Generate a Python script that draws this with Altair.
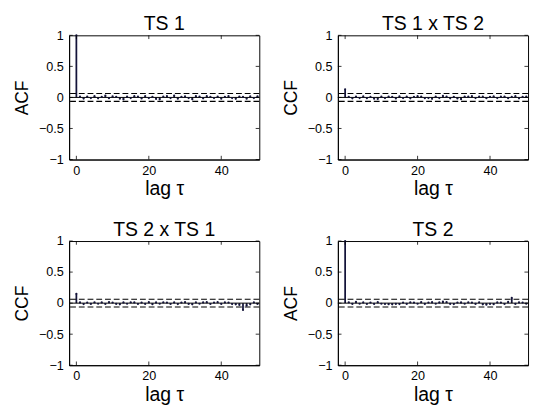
import altair as alt
import pandas as pd

lags = list(range(51))

ts1_acf = [1.0, 0.012, -0.018, 0.015, -0.010, 0.020, -0.014, 0.010, 0.028, -0.012,
           0.018, 0.010, -0.020, -0.030, 0.014, -0.010, 0.020, 0.012, -0.016, 0.022,
           -0.010, 0.010, -0.024, -0.030, 0.014, 0.020, -0.010, 0.030, -0.020, 0.010,
           0.016, -0.010, -0.030, 0.020, 0.012, -0.014, 0.020, 0.010, -0.010, 0.014,
           -0.020, 0.010, 0.022, -0.010, -0.022, 0.014, 0.010, -0.020, 0.018, -0.010, 0.016]

ts12_ccf = [0.13, 0.010, -0.014, 0.012, -0.010, 0.016, -0.012, 0.008, -0.020, -0.025,
            0.012, -0.010, 0.014, 0.010, -0.016, 0.018, -0.010, 0.012, -0.014, 0.010,
            0.020, 0.015, -0.012, -0.010, -0.022, 0.014, -0.010, 0.025, 0.012, -0.014,
            0.010, -0.016, -0.028, 0.014, 0.012, 0.020, -0.010, 0.014, 0.012, -0.012,
            0.010, 0.016, -0.010, 0.012, 0.014, -0.012, 0.010, 0.020, -0.014, 0.010, 0.012]

ts21_ccf = [0.15, 0.012, -0.016, 0.010, -0.012, 0.014, -0.010, 0.012, -0.014, 0.018,
            0.010, -0.012, -0.020, 0.012, -0.010, 0.014, 0.012, -0.014, 0.010, -0.012,
            0.016, -0.018, 0.012, -0.010, 0.014, 0.010, -0.014, 0.012, -0.016, 0.010,
            0.018, -0.012, -0.020, 0.014, -0.010, 0.012, 0.016, -0.014, 0.010, 0.018,
            -0.012, 0.014, 0.010, -0.016, -0.020, -0.030, -0.110, -0.040, -0.020, 0.012, -0.014]

ts2_acf = [1.0, 0.014, -0.012, 0.020, -0.010, 0.012, -0.014, 0.010, -0.012, 0.016,
           -0.010, -0.014, -0.018, -0.020, -0.012, -0.016, 0.010, -0.012, 0.014, 0.010,
           -0.010, 0.018, -0.012, 0.010, 0.016, -0.010, 0.012, 0.024, 0.018, -0.012,
           -0.016, 0.010, 0.012, -0.010, 0.014, 0.010, -0.012, 0.014, -0.020, -0.025,
           -0.012, -0.018, 0.012, 0.010, -0.014, 0.020, 0.085, -0.012, 0.014, 0.010, -0.010]

titles = ["TS 1", "TS 1 x TS 2", "TS 2 x TS 1", "TS 2"]
ylabels = ["ACF", "CCF", "CCF", "ACF"]
series = [ts1_acf, ts12_ccf, ts21_ccf, ts2_acf]
conf_bounds = [0.063, -0.063]
x_ticks = [0, 20, 40]
y_ticks = [-1, -0.5, 0, 0.5, 1]
x_limits = [-2, 50.5]
y_limits = [-1, 1]

FONT = "Liberation Sans"
STEM = "#14143a"


def panel(vals, title, ylab):
    df = pd.DataFrame({"lag": lags, "value": vals, "zero": [0.0] * len(lags)})
    bdf = pd.DataFrame({"b": conf_bounds})
    # inner tick marks (MATLAB style), short segments pointing into the box
    ylen = 0.06 * (y_limits[1] - y_limits[0]) / 2
    xlen = 1.0
    xt = pd.DataFrame(
        [{"tx": t, "ty": y_limits[0], "ty2": y_limits[0] + ylen} for t in x_ticks]
        + [{"tx": t, "ty": y_limits[1], "ty2": y_limits[1] - ylen} for t in x_ticks]
    )
    yt = pd.DataFrame(
        [{"ty": t, "tx": x_limits[0], "tx2": x_limits[0] + xlen} for t in y_ticks]
        + [{"ty": t, "tx": x_limits[1], "tx2": x_limits[1] - xlen} for t in y_ticks]
    )
    xscale = alt.Scale(domain=x_limits, nice=False)
    yscale = alt.Scale(domain=y_limits, nice=False)
    xaxis = alt.Axis(values=x_ticks, title="lag τ", grid=False, labelOverlap=False)
    yaxis = alt.Axis(values=y_ticks, format="~g", title=ylab, grid=False, labelOverlap=False)
    X = lambda f: alt.X(f, scale=xscale, axis=xaxis)
    Y = lambda f: alt.Y(f, scale=yscale, axis=yaxis)
    stems = alt.Chart(df).mark_rule(color=STEM, strokeWidth=1.8).encode(
        x=X("lag:Q"), y=Y("value:Q"), y2="zero:Q")
    dots = alt.Chart(df).mark_circle(color=STEM, size=5, opacity=1).encode(
        x=X("lag:Q"), y=Y("value:Q"))
    base = alt.Chart(pd.DataFrame({"z": [0.0]})).mark_rule(color="black", strokeWidth=1).encode(
        y=Y("z:Q"))
    bounds = alt.Chart(bdf).mark_rule(color="black", strokeWidth=1.1, strokeDash=[6, 3]).encode(
        y=Y("b:Q"))
    xticks_in = alt.Chart(xt).mark_rule(color="black", strokeWidth=0.8).encode(
        x=X("tx:Q"), y=Y("ty:Q"), y2="ty2:Q")
    yticks_in = alt.Chart(yt).mark_rule(color="black", strokeWidth=0.8).encode(
        x=X("tx:Q"), x2="tx2:Q", y=Y("ty:Q"))
    return alt.layer(stems, base, bounds, dots, xticks_in, yticks_in).properties(
        width=196, height=128,
        title=alt.TitleParams(title, fontSize=20, fontWeight="normal", font=FONT, offset=-5, color="black"),
    )


p = [panel(series[i], titles[i], ylabels[i]) for i in range(4)]

chart = alt.vconcat(
    alt.hconcat(p[0], p[1], spacing=21),
    alt.hconcat(p[2], p[3], spacing=21),
    spacing=21,
).configure_view(stroke="black", strokeWidth=1).configure_axis(
    labelFont=FONT, titleFont=FONT, labelFontSize=13,
    titleFontWeight="normal", labelColor="black", titleColor="black",
    domainColor="black", ticks=False,
).configure_axisX(titleFontSize=20, titlePadding=2, labelPadding=5).configure_axisY(
    titleFontSize=18, titlePadding=7, labelPadding=6
).properties(padding={"left": 5, "top": 0, "right": 0, "bottom": 0}, background="white")

chart.save("out.html", embed_options={"renderer": "svg", "actions": False})
